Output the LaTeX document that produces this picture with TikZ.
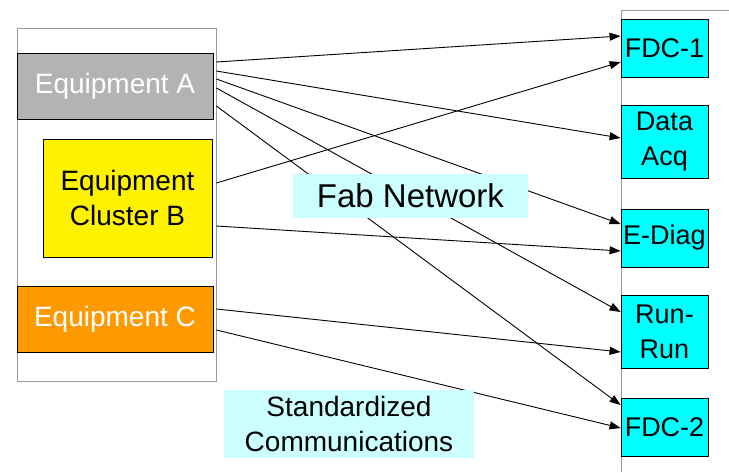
\documentclass[tikz,border=0pt]{standalone}
\usepackage{fontspec}
\setmainfont{Liberation Sans}
\usetikzlibrary{arrows.meta}
\definecolor{eqgray}{HTML}{B3B3B3}
\definecolor{eqorange}{HTML}{FF9900}
\definecolor{appcyan}{HTML}{00FFFF}
\definecolor{tagcyan}{HTML}{CCFFFF}
\definecolor{framegray}{HTML}{999999}
\tikzset{
	equip/.style={draw=black, line width=0.8pt, inner sep=0pt, align=center, font=\fontsize{28}{35}\selectfont},
	app/.style={draw=black, line width=0.8pt, fill=appcyan, inner sep=0pt, minimum width=87pt, align=center, font=\fontsize{27}{35}\selectfont},
	tag/.style={fill=tagcyan, inner sep=0pt, align=center},
	link/.style={line width=0.9pt, -{Triangle[length=11pt,width=8pt]}}
}

\begin{document}
\begin{tikzpicture}[x=1pt,y=-1pt]
		%%%%% START %%%%%
		\useasboundingbox (0,0) rectangle (729,472);
		
		\draw[line width=1pt, color=framegray] (17,28) rectangle (216,381);
		\draw[line width=1pt, color=framegray] (621,472) -- (621,10) -- (729,10);
		
		\node[equip, fill=eqgray, text=white, minimum width=196pt, minimum height=66pt] (eqA) at (115,86) {Equipment A};
		\node[equip, fill=yellow, minimum width=169pt, minimum height=118pt] (eqB) at (127.5,198) {Equipment\\Cluster B};
		\node[equip, fill=eqorange, text=white, minimum width=196pt, minimum height=66pt] (eqC) at (115,319) {Equipment C};
		
		\node[app, minimum height=58pt] (fdc1) at (664.5,48) {FDC-1};
		\node[app, minimum height=73pt] (dacq) at (664.5,141.5) {Data\\Acq};
		\node[app, minimum height=58pt] (ediag) at (664.5,238) {E-Diag};
		\node[app, minimum height=73pt] (runrun) at (664.5,331.5) {Run-\\Run};
		\node[app, minimum height=58pt] (fdc2) at (664.5,427) {FDC-2};
		
		\draw[link] ([xshift=3pt,yshift=24pt]eqA.east) -- ([yshift=12pt]fdc1.west);
		\draw[link] ([xshift=3pt,yshift=15pt]eqA.east) -- ([yshift=3.5pt]dacq.west);
		\draw[link] ([xshift=3pt,yshift=7pt]eqA.east) -- ([yshift=14pt]ediag.west);
		\draw[link] ([xshift=3pt,yshift=-2pt]eqA.east) -- ([yshift=19.5pt]runrun.west);
		\draw[link] ([xshift=3pt,yshift=-20pt]eqA.east) -- ([yshift=22pt]fdc2.west);
		\draw[link] ([xshift=4pt,yshift=15pt]eqB.east) -- ([yshift=-14pt]fdc1.west);
		\draw[link] ([xshift=4pt,yshift=-28pt]eqB.east) -- ([yshift=-13pt]ediag.west);
		\draw[link] ([xshift=3pt,yshift=10pt]eqC.east) -- ([yshift=-20.5pt]runrun.west);
		\draw[link] ([xshift=3pt,yshift=-11pt]eqC.east) -- ([yshift=-1pt]fdc2.west);
		
		\node[tag, minimum width=235pt, minimum height=44pt, font=\fontsize{33}{40}\selectfont] (fabnet) at (410.5,196) {Fab Network};
		\node[tag, minimum width=250pt, minimum height=68pt, font=\fontsize{28}{35}\selectfont] (stdcomm) at (349,424) {Standardized\\Communications};
		
		%%%%% END %%%%%
	\end{tikzpicture}
\end{document}
